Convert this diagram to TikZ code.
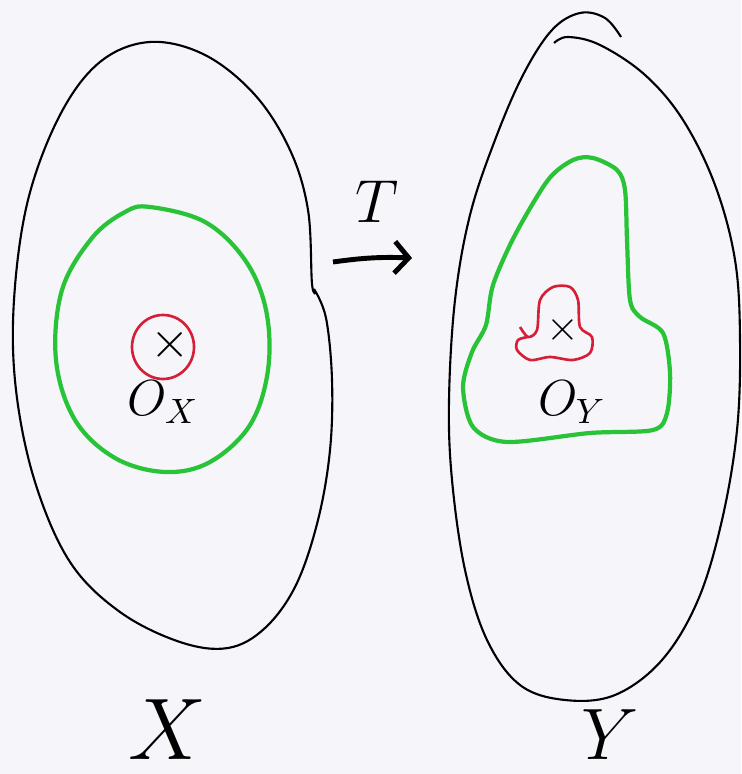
\documentclass[tikz,border=0pt]{standalone}
\usepackage{xcolor}
\usepackage{amsmath,amssymb}
\usepackage{tikz}
\usetikzlibrary{arrows.meta}

\definecolor{paper}{RGB}{245,245,250}
\definecolor{setgreen}{RGB}{40,195,55}
\definecolor{setred}{RGB}{215,30,55}

\begin{document}
\begin{tikzpicture}[x=0.01cm, y=-0.01cm,
    outline/.style={line width=0.6pt, black},
    bigset/.style={line width=1.2pt, setgreen},
    smallset/.style={line width=0.75pt, setred}]

    % paper
    \fill[paper] (0,0) rectangle (741,774);
    \useasboundingbox (0,0) rectangle (741,774);

    % space X
    \draw[outline] plot[smooth, tension=0.6] coordinates {
        (314,289) (326,318) (332,380) (330,450) (318,520) (296,585)
        (265,628) (228,648) (180,642) (120,612) (70,562) (35,482)
        (16,390) (14,300) (28,200) (60,115) (100,62) (150,42)
        (205,55) (255,95) (290,150) (308,210) (312,284) (316,292)};

    % green set in X
    \draw[bigset] plot[smooth cycle, tension=0.6] coordinates {
        (150,207) (205,222) (245,260) (266,310) (268,370) (250,425)
        (210,462) (165,472) (115,458) (75,420) (56,360) (62,290)
        (92,238) (125,212)};

    % red set in X
    \draw[smallset] (163,347) ellipse [x radius=31, y radius=32];

    % point and label in X
    \node (px) at (170,345) {\Large$\times$};
    \node (ox) at (163,402) {\Large$O_X$};
    \node (lx) at (167,730) {\fontsize{24}{28}\selectfont$X$};

    % map T
    \coordinate (arrS) at (333,262);
    \coordinate (arrE) at (412,258);
    \draw[line width=1.4pt, -{Straight Barb[length=4pt, width=9pt]}] (arrS) to[bend left=5] (arrE);
    \node (tmap) at (377,202) {\LARGE$T$};

    % space Y
    \draw[outline] plot[smooth, tension=0.6] coordinates {
        (554,43) (568,37) (600,45) (645,75) (683,120) (715,185)
        (735,260) (740,340) (737,430) (722,520) (698,600) (662,660)
        (615,695) (565,700) (520,685) (487,640) (465,570) (452,480)
        (449,400) (455,300) (470,215) (495,140) (523,75) (552,30)
        (580,13) (605,18) (621,37)};

    % green set in Y
    \draw[bigset] plot[smooth cycle, tension=0.5] coordinates {
        (593,158) (617,170) (625,190) (627,240) (630,300) (640,317)
        (663,333) (670,373) (667,413) (653,430) (590,433) (507,442)
        (473,427) (463,387) (472,352) (486,325) (493,285) (515,235)
        (548,180) (573,160)};

    % red set in Y
    \draw[smallset] plot[smooth, tension=0.5] coordinates {
        (520,327) (528,337) (537,330) (540,300) (553,287) (570,287)
        (578,300) (580,327) (592,337) (590,353) (573,360) (550,357)
        (530,360) (517,350) (518,340) (528,337)};

    % point and label in Y
    \node (py) at (563,330) {\large$\times$};
    \node (oy) at (572,402) {\Large$O_Y$};
    \node (ly) at (610,735) {\fontsize{22}{26}\selectfont$Y$};

\end{tikzpicture}
\end{document}
